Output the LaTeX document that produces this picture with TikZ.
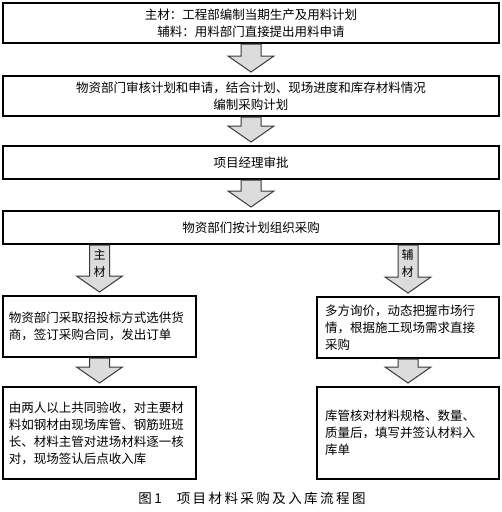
\documentclass[tikz,border=0pt]{standalone}
\usepackage{fontspec}
\setmainfont{Noto Sans CJK SC}
\newfontfamily\capfont[LetterSpace=18]{Noto Sans CJK SC}
\usetikzlibrary{calc}
\definecolor{arrowfill}{HTML}{DCDCDC}
\definecolor{arrowline}{HTML}{3A3A3A}
\tikzset{stepbox/.style={draw=black, fill=white, line width=2pt, inner sep=0pt, font=\fontsize{12.5}{17}\selectfont, align=center}, leftbox/.style={stepbox, align=left, text width=#1}, blockarrow/.style={draw=arrowline, fill=arrowfill, line width=1pt, line join=miter}, shaftlab/.style={font=\fontsize{12}{14}\selectfont, inner sep=0pt}}
\newcommand{\flowarrow}[2]{\draw[blockarrow] let \p1=(#2.north), \p2=(#1.south) in (\x1-10pt,\y2) -- (\x1+10pt,\y2) -- (\x1+10pt,\y1+19pt) -- (\x1+23pt,\y1+19pt) -- (\x1,\y1+3pt) -- (\x1-23pt,\y1+19pt) -- (\x1-10pt,\y1+19pt) -- cycle;}
\begin{document}
\begin{tikzpicture}[x=1pt,y=-1pt]
\useasboundingbox (0,0) rectangle (502,512);
% boxes
\node[stepbox, minimum width=496pt, minimum height=40pt] (plan) at (251,23) {主材：工程部编制当期生产及用料计划\\辅料：用料部门直接提出用料申请};
\node[stepbox, minimum width=496pt, minimum height=40pt] (check) at (251,96) {物资部门审核计划和申请，结合计划、现场进度和库存材料情况\\编制采购计划};
\node[stepbox, minimum width=496pt, minimum height=33pt] (approve) at (251,162.5) {项目经理审批};
\node[stepbox, minimum width=496pt, minimum height=33pt] (buy) at (251,227.5) {物资部们按计划组织采购};
\node[leftbox=181pt, minimum width=193pt, minimum height=61pt] (tender) at (99.5,326.5) {物资部门采取招投标方式选供货\\商，签订采购合同，发出订单};
\node[leftbox=166pt, minimum width=182pt, minimum height=61pt] (inquire) at (408,327.5) {多方询价，动态把握市场行\\情，根据施工现场需求直接\\采购};
\node[leftbox=181pt, minimum width=193pt, minimum height=92pt] (accept) at (99.5,433) {由两人以上共同验收，对主要材\\料如钢材由现场库管、钢筋班班\\长、材料主管对进场材料逐一核\\对，现场签认后点收入库};
\node[leftbox=166pt, minimum width=182pt, minimum height=92pt] (store) at (408,433) {库管核对材料规格、数量、\\质量后，填写并签认材料入\\库单};
% arrows
\flowarrow{plan}{check}
\flowarrow{check}{approve}
\flowarrow{approve}{buy}
\flowarrow{buy}{tender}
\flowarrow{buy}{inquire}
\flowarrow{tender}{accept}
\flowarrow{inquire}{store}
\node[shaftlab] (mainA) at (99.5,255) {主};
\node[shaftlab] (mainB) at (99.5,272) {材};
\node[shaftlab] (auxA) at (407.5,255) {辅};
\node[shaftlab] (auxB) at (407.5,272) {材};
% caption
\node[font=\capfont\fontsize{13.5}{16}\selectfont] (caption) at (252,498) {图1\hspace{1.1em}项目材料采购及入库流程图};
\end{tikzpicture}
\end{document}
